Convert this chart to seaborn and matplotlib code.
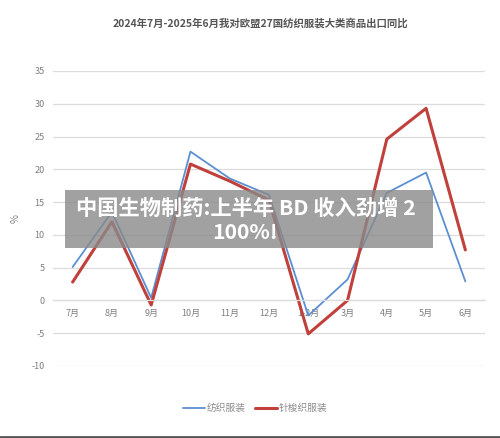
import matplotlib
matplotlib.use("Agg")
import matplotlib.pyplot as plt
import seaborn as sns
import pandas as pd
from matplotlib.patches import Rectangle

months = ["7月", "8月", "9月", "10月", "11月", "12月", "1-2月", "3月", "4月", "5月", "6月"]
textile = [5.1, 13.5, 0.4, 22.7, 18.6, 16.1, -2.3, 3.2, 16.4, 19.5, 2.9]
garment = [2.8, 12.0, -0.7, 20.8, 18.2, 15.3, -5.1, 0.0, 24.6, 29.3, 7.7]
series_names = ["纺织服装", "针梭织服装"]
yticks = [-10, -5, 0, 5, 10, 15, 20, 25, 30, 35]
title = "2024年7月-2025年6月我对欧盟27国纺织服装大类商品出口同比"
banner = "中国生物制药:上半年 BD 收入劲增 2\n100%!"

sns.set_theme(style="white")
plt.rcParams['font.family'] = ['Noto Sans CJK SC', 'DejaVu Sans']

df = pd.DataFrame({
    "month": months * 2,
    "x": list(range(len(months))) * 2,
    "value": textile + garment,
    "series": [series_names[0]] * len(months) + [series_names[1]] * len(months),
})

fig = plt.figure(figsize=(5, 4.38), dpi=100)
ax = fig.add_axes([0.106, 0.1644, 0.864, 0.6736])

colors = {series_names[0]: "#5B8FD2", series_names[1]: "#C0403C"}
widths = {series_names[0]: 1.3, series_names[1]: 2.2}
for name in series_names:
    sub = df[df.series == name]
    sns.lineplot(data=sub, x="x", y="value", ax=ax, color=colors[name],
                 linewidth=widths[name], label=name, sort=False)

for s in ["top", "right", "left"]:
    ax.spines[s].set_visible(False)
ax.spines["bottom"].set_position(("data", 0))
ax.spines["bottom"].set_color("#dcdcdc")
ax.spines["bottom"].set_linewidth(0.9)

ax.set_xlim(-0.5, len(months) - 0.5)
ax.set_ylim(-10, 35)
ax.set_yticks(yticks)
ax.set_yticklabels([str(v) for v in yticks], fontsize=6.5, color="#7f7f7f")
ax.set_xticks(range(len(months)))
ax.set_xticklabels(months, fontsize=6.5, color="#7f7f7f")
ax.tick_params(axis="both", length=0, pad=6)
ax.grid(axis="y", color="#dcdcdc", linewidth=0.9)
ax.set_axisbelow(True)
ax.set_xlabel("")
ax.set_ylabel("%", fontsize=7, color="#7f7f7f", labelpad=8)

leg = ax.legend(loc="upper center", bbox_to_anchor=(0.468, -0.097), ncol=2, frameon=False,
                fontsize=7, handlelength=2.3, columnspacing=0.9, handletextpad=0.2)
for t in leg.get_texts():
    t.set_color("#8c8c8c")

fig.text(0.52, 0.948, title, ha="center", va="center", fontsize=7.5,
         color="#555555", fontweight="bold")

fig.patches.append(Rectangle((0.13, 0.434), 0.736, 0.132, transform=fig.transFigure,
                             facecolor="#8a8a8a", alpha=0.8, edgecolor="none", zorder=5))
fig.text(0.491, 0.497, banner, ha="center", va="center", fontsize=15.3, color="white",
         fontweight="bold", linespacing=1.25, zorder=6)

fig.add_artist(plt.Line2D([0, 1], [0.003, 0.003], transform=fig.transFigure,
                          color="#555555", linewidth=2))

fig.savefig("out.png", dpi=100, facecolor="white")
